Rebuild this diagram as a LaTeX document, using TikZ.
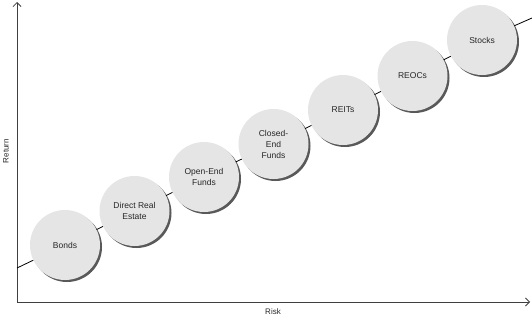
\documentclass[tikz,border=0pt]{standalone}
\usepackage{fontspec}
\setmainfont{Liberation Sans}
\usepackage{tikz}
\usetikzlibrary{arrows.meta, shadows, positioning}
\tikzset{
  assetnode/.style={
    circle, minimum size=70pt, inner sep=0pt,
    align=center, font=\fontsize{8.5}{11}\selectfont,
    fill=black!10, text=black!85,
    drop shadow={shadow xshift=2pt, shadow yshift=-2pt,
                 fill=black!65, opacity=1}
  },
  axisline/.style={-{Straight Barb[length=4pt, width=8pt]},
    line width=0.8pt, color=black!75},
  trendline/.style={line width=0.8pt, color=black},
  axislabel/.style={font=\fontsize{8}{10}\selectfont, text=black!85},
}

\begin{document}
\begin{tikzpicture}[x=1pt, y=1pt]
      \useasboundingbox (0,0) rectangle (532,317);
      % axes
      \coordinate (origin) at (17,15);
      \coordinate (ytop)   at (17,315);
      \coordinate (xend)   at (530,15);
      \draw[axisline] (origin) -- (ytop);
      \draw[axisline] (origin) -- (xend);
      \node[axislabel, rotate=90] (retlabel) at (6,166) {Return};
      \node[axislabel] (risklabel) at (273,5) {Risk};
      % trend line ends
      \coordinate (lineA) at (17,49);
      \coordinate (lineB) at (532,299);
      % asset classes
      \node[assetnode] (bonds)   at (65,72)      {Bonds};
      \node[assetnode] (direct)  at (134.5,106)  {Direct Real\\Estate};
      \node[assetnode] (openend) at (204,140)    {Open-End\\Funds};
      \node[assetnode] (closed)  at (273.5,173)  {Closed-\\End\\Funds};
      \node[assetnode] (reits)   at (343,207)    {REITs};
      \node[assetnode] (reocs)   at (412.5,241)  {REOCs};
      \node[assetnode] (stocks)  at (482,277)    {Stocks};
      \draw[trendline] (lineA) -- (bonds);
      \draw[trendline] (bonds) -- (direct);
      \draw[trendline] (direct) -- (openend);
      \draw[trendline] (openend) -- (closed);
      \draw[trendline] (closed) -- (reits);
      \draw[trendline] (reits) -- (reocs);
      \draw[trendline] (reocs) -- (stocks);
      \draw[trendline] (stocks) -- (lineB);
    \end{tikzpicture}
\end{document}
